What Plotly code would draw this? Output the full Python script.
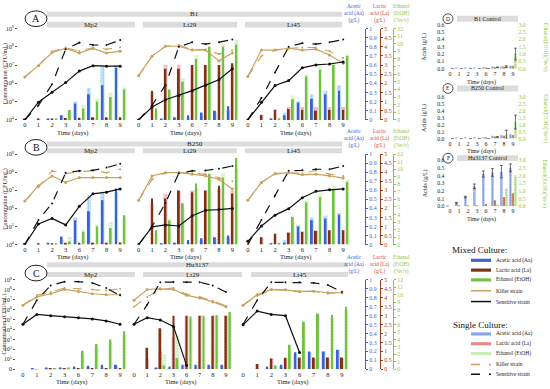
import plotly.graph_objects as go

W, H = 550, 389
FONT = "Liberation Serif"

DAYS = ["0", "1", "2", "3", "6", "7", "8", "9"]
LOG_TICKS_AB = [4, 5, 6, 7, 8, 9]
LOG_TEXT_AB = ["10<sup>4</sup>", "10<sup>5</sup>", "10<sup>6</sup>", "10<sup>7</sup>", "10<sup>8</sup>", "10<sup>9</sup>"]
LOG_TICKS_C = [0, 1, 2, 3, 4, 5, 6, 7, 8, 9]
LOG_TEXT_C = ["0", "10<sup>1</sup>", "10<sup>2</sup>", "10<sup>3</sup>", "10<sup>4</sup>", "10<sup>5</sup>",
              "10<sup>6</sup>", "10<sup>7</sup>", "10<sup>8</sup>", "10<sup>9</sup>"]

# ---------------- Row A : B1 (log10 CFU/mL ; acetic g/L ; lactic g/L ; ethanol %v/v)
B1_Mp2_KM = [6.35, 6.97, 7.69, 7.91, 7.66, 7.91, 7.66, 7.76]
B1_Mp2_KS = [6.35, 6.97, 7.75, 7.96, 7.76, 7.96, 7.87, 7.98]
B1_Mp2_SM = [4.0, 4.97, 5.51, 6.04, 6.67, 6.97, 6.94, 6.94]
B1_Mp2_SS = [4.0, 4.79, 5.95, 7.87, 8.23, 8.10, 8.10, 8.37]
B1_Mp2_AaM = [0.0, 0.0, 0.01, 0.05, 0.18, 0.28, 0.38, 0.57]
B1_Mp2_AaS = [0.0, 0.0, 0.02, 0.05, 0.20, 0.35, 0.60, 0.60]
B1_Mp2_LaM = [0.02, 0.02, 0.05, 0.10, 0.12, 0.15, 0.15, 0.15]
B1_Mp2_LaS = [0.02, 0.02, 0.03, 0.05, 0.10, 0.10, 0.10, 0.10]
B1_Mp2_EtM = [0.0, 0.0, 0.05, 1.3, 1.5, 2.4, 3.0, 4.0]
B1_Mp2_EtS = [0.0, 0.0, 0.1, 1.0, 2.0, 2.8, 3.6, 4.3]

B1_Lt29_KM = [6.42, 7.49, 8.03, 8.03, 7.82, 7.82, 7.23, 7.66]
B1_Lt29_KS = [6.42, 7.49, 8.03, 8.10, 7.85, 7.85, 7.60, 7.80]
B1_Lt29_SM = [4.0, 4.7, 5.1, 5.34, 5.6, 5.9, 6.2, 6.8]
B1_Lt29_SS = [4.0, 4.8, 5.9, 8.0, 8.25, 8.15, 8.25, 8.4]
B1_Lt29_AaM = [0.0, 0.0, 0.01, 0.03, 0.05, 0.08, 0.10, 0.15]
B1_Lt29_AaS = [0.0, 0.0, 0.01, 0.02, 0.03, 0.05, 0.08, 0.10]
B1_Lt29_LaM = [0.0, 1.6, 2.8, 2.8, 3.0, 3.0, 3.0, 3.1]
B1_Lt29_LaS = [0.0, 1.5, 3.0, 3.0, 3.0, 3.0, 3.0, 3.0]
B1_Lt29_EtM = [0.0, 1.5, 4.0, 5.0, 8.0, 9.6, 9.6, 9.9]
B1_Lt29_EtS = [0.0, 1.0, 3.5, 5.5, 8.5, 9.0, 10.0, 10.5]

B1_Lt45_KM = [6.37, 7.82, 7.82, 7.92, 7.82, 7.87, 7.55, 7.10]
B1_Lt45_KS = [6.37, 7.50, 7.82, 7.92, 7.96, 7.96, 7.76, 7.39]
B1_Lt45_SM = [4.0, 4.97, 5.88, 6.15, 6.85, 7.01, 7.06, 7.17]
B1_Lt45_SS = [4.0, 5.2, 6.6, 8.0, 8.2, 8.15, 8.25, 8.4]
B1_Lt45_AaM = [0.0, 0.0, 0.01, 0.05, 0.19, 0.23, 0.28, 0.32]
B1_Lt45_AaS = [0.0, 0.0, 0.02, 0.08, 0.20, 0.28, 0.32, 0.38]
B1_Lt45_LaM = [0.0, 0.27, 0.54, 0.60, 0.55, 0.50, 0.55, 0.55]
B1_Lt45_LaS = [0.0, 0.30, 0.60, 0.70, 0.70, 0.70, 0.70, 0.70]
B1_Lt45_EtM = [0.0, 0.0, 0.1, 2.7, 5.7, 6.6, 7.2, 8.4]
B1_Lt45_EtS = [0.0, 0.0, 0.3, 3.2, 6.0, 7.0, 7.6, 8.6]

# ---------------- Row B : B250
B250_Mp2_KM = [6.41, 7.26, 7.80, 7.44, 7.71, 7.71, 7.71, 7.71]
B250_Mp2_KS = [6.41, 7.17, 8.08, 7.93, 8.04, 8.08, 7.98, 8.17]
B250_Mp2_SM = [4.0, 5.14, 5.45, 5.09, 6.12, 6.81, 6.90, 7.08]
B250_Mp2_SS = [4.0, 5.36, 6.28, 7.98, 8.08, 8.11, 8.26, 8.47]
B250_Mp2_AaM = [0.0, 0.0, 0.02, 0.09, 0.27, 0.37, 0.49, 0.62]
B250_Mp2_AaS = [0.0, 0.0, 0.02, 0.05, 0.30, 0.55, 0.58, 0.58]
B250_Mp2_LaM = [0.02, 0.02, 0.05, 0.10, 0.10, 0.10, 0.10, 0.12]
B250_Mp2_LaS = [0.02, 0.02, 0.03, 0.05, 0.08, 0.10, 0.10, 0.10]
B250_Mp2_EtM = [0.0, 0.0, 0.05, 0.4, 1.7, 2.4, 2.2, 3.9]
B250_Mp2_EtS = [0.0, 0.0, 0.1, 1.0, 2.0, 2.6, 3.0, 3.6]

B250_Lt29_KM = [6.45, 7.80, 7.98, 7.98, 7.90, 7.80, 7.62, 7.08]
B250_Lt29_KS = [6.45, 7.60, 7.98, 8.00, 7.95, 7.90, 7.70, 7.50]
B250_Lt29_SM = [4.0, 4.98, 5.09, 5.03, 5.6, 5.9, 5.94, 6.0]
B250_Lt29_SS = [4.0, 5.0, 6.3, 7.95, 8.08, 8.1, 8.2, 8.35]
B250_Lt29_AaM = [0.0, 0.0, 0.01, 0.02, 0.05, 0.07, 0.08, 0.10]
B250_Lt29_AaS = [0.0, 0.0, 0.01, 0.02, 0.03, 0.05, 0.06, 0.08]
B250_Lt29_LaM = [0.0, 2.55, 2.55, 3.0, 2.9, 3.0, 3.26, 2.83]
B250_Lt29_LaS = [0.0, 2.3, 2.8, 3.0, 3.0, 3.0, 3.1, 3.0]
B250_Lt29_EtM = [0.0, 1.9, 3.2, 5.5, 8.1, 9.4, 8.9, 11.5]
B250_Lt29_EtS = [0.0, 1.5, 3.5, 5.0, 7.5, 9.0, 9.5, 10.0]

B250_Lt45_KM = [6.45, 7.44, 7.93, 7.98, 7.86, 7.90, 7.80, 7.68]
B250_Lt45_KS = [6.45, 7.44, 7.90, 7.98, 7.93, 8.10, 7.90, 7.80]
B250_Lt45_SM = [4.18, 5.03, 5.63, 5.99, 6.59, 6.95, 7.03, 7.08]
B250_Lt45_SS = [4.0, 5.36, 6.72, 8.08, 8.11, 8.17, 8.17, 8.35]
B250_Lt45_AaM = [0.0, 0.0, 0.01, 0.02, 0.20, 0.27, 0.29, 0.33]
B250_Lt45_AaS = [0.0, 0.0, 0.02, 0.05, 0.22, 0.30, 0.32, 0.35]
B250_Lt45_LaM = [0.0, 0.40, 0.60, 0.65, 0.70, 0.75, 0.80, 0.80]
B250_Lt45_LaS = [0.0, 0.40, 0.60, 0.70, 0.75, 0.80, 0.80, 0.80]
B250_Lt45_EtM = [0.0, 0.0, 0.2, 3.7, 5.6, 6.3, 7.4, 8.3]
B250_Lt45_EtS = [0.0, 0.0, 0.3, 3.0, 6.0, 6.8, 7.8, 8.6]

# ---------------- Row C : Hu3137
Hu_Mp2_KM = [6.46, 7.29, 7.61, 8.04, 7.84, 7.61, 7.51, 7.51]
Hu_Mp2_KS = [6.46, 7.45, 7.78, 8.18, 8.11, 8.04, 7.94, 8.11]
Hu_Mp2_SM = [4.54, 5.53, 5.40, 5.30, 5.20, 5.07, 4.87, 4.54]
Hu_Mp2_SS = [4.54, 6.95, 8.44, 8.83, 8.83, 8.70, 8.18, 7.45]
Hu_Mp2_AaM = [0.0, 0.01, 0.02, 0.02, 0.03, 0.04, 0.05, 0.05]
Hu_Mp2_AaS = [0.0, 0.01, 0.01, 0.02, 0.02, 0.03, 0.03, 0.04]
Hu_Mp2_LaM = [0.0, 0.02, 0.05, 0.05, 0.05, 0.05, 0.05, 0.05]
Hu_Mp2_LaS = [0.0, 0.02, 0.03, 0.03, 0.04, 0.04, 0.04, 0.04]
Hu_Mp2_EtM = [0.0, 0.0, 0.1, 0.2, 2.5, 3.4, 4.0, 5.1]
Hu_Mp2_EtS = [0.0, 0.0, 0.1, 0.3, 2.0, 3.0, 3.6, 4.6]

Hu_Lt29_KM = [6.95, 8.04, 8.11, 8.04, 7.45, 7.19, 6.79, 6.30]
Hu_Lt29_KS = [6.30, 7.29, 8.04, 8.20, 7.55, 7.30, 6.90, 6.40]
Hu_Lt29_SM = [4.54, 5.20, 4.97, 4.32, 0.40, None, None, None]
Hu_Lt29_SS = [4.54, 6.50, 8.77, 8.80, 8.77, 8.77, 8.44, 7.78]
Hu_Lt29_AaM = [0.0, 0.0, 0.02, 0.03, 0.05, 0.05, 0.05, 0.05]
Hu_Lt29_AaS = [0.0, 0.0, 0.01, 0.02, 0.04, 0.04, 0.04, 0.04]
Hu_Lt29_LaM = [0.0, 1.2, 2.3, 3.0, 3.0, 3.0, 3.0, 3.0]
Hu_Lt29_LaS = [0.0, 0.6, 1.0, 1.8, 3.0, 3.0, 3.0, 3.0]
Hu_Lt29_EtM = [0.0, 0.0, 0.5, 1.5, 7.1, 7.2, 7.3, 7.7]
Hu_Lt29_EtS = [0.0, 0.0, 2.0, 4.5, 6.8, 7.0, 7.2, 7.4]

Hu_Lt45_KM = [6.46, 7.51, 8.04, 8.00, 7.84, 7.87, 7.71, 7.71]
Hu_Lt45_KS = [6.46, 7.40, 8.00, 7.95, 7.80, 7.87, 7.60, 7.80]
Hu_Lt45_SM = [4.48, 5.86, 5.53, 5.40, 1.70, None, None, None]
Hu_Lt45_SS = [4.54, 6.95, 8.77, 8.77, 8.77, 8.70, 8.50, 7.78]
Hu_Lt45_AaM = [0.0, 0.0, 0.03, 0.05, 0.19, 0.20, 0.20, 0.22]
Hu_Lt45_AaS = [0.0, 0.0, 0.02, 0.04, 0.17, 0.19, 0.20, 0.21]
Hu_Lt45_LaM = [0.0, 0.30, 0.60, 0.65, 0.66, 0.66, 0.66, 0.66]
Hu_Lt45_LaS = [0.0, 0.30, 0.60, 0.60, 0.60, 0.60, 0.60, 0.60]
Hu_Lt45_EtM = [0.0, 0.0, 0.5, 3.3, 6.4, 7.5, 7.3, 8.4]
Hu_Lt45_EtS = [0.0, 0.0, 0.4, 2.5, 6.0, 7.2, 7.0, 8.0]

# ---------------- Controls (acids g/L on left, ethanol %v/v on right)
D_Aa = [0.0, 0.01, 0.01, 0.01, 0.02, 0.03, 0.03, 0.04]
D_La = [0.0, 0.0, 0.0, 0.0, 0.01, 0.02, 0.03, 0.04]
D_Et = [0.0, 0.0, 0.0, 0.0, 0.0, 0.1, 0.15, 1.0]
D_Et_err = [0, 0, 0, 0, 0, 0.02, 0.05, 0.4]
E_Aa = [0.0, 0.01, 0.01, 0.01, 0.02, 0.04, 0.05, 0.06]
E_La = [0.0, 0.0, 0.0, 0.0, 0.01, 0.03, 0.04, 0.05]
E_Et = [0.0, 0.0, 0.0, 0.0, 0.0, 0.1, 0.3, 1.2]
E_Et_err = [0, 0, 0, 0, 0, 0.05, 0.3, 0.5]
F_Aa = [0.0, 0.04, 0.12, 0.26, 0.42, 0.44, 0.45, 0.50]
F_Aa_err = [0, 0.01, 0.01, 0.03, 0.04, 0.05, 0.08, 0.05]
F_La = [0.0, 0.01, 0.01, 0.01, 0.03, 0.08, 0.12, 0.17]
F_Et = [0.0, 0.0, 0.0, 0.0, 0.0, 0.1, 1.15, 2.0]

# ---------------- styling
C_AA, C_LA, C_ET = "#3f5fd6", "#7a3410", "#74c043"
C_AA_S, C_LA_S, C_ET_S = "#c3ecf3", "#f7cddd", "#d8f0c8"
C_KILL = "#c9a25e"
C_AXAA, C_AXLA, C_AXET = "#3b5bdb", "#a0401c", "#8cc63f"


def px(x):
    return x / W


def py(y):
    return 1 - y / H


ROWS = {"A": (118, 25), "B": (245, 153), "C": (372, 281)}
COLS = {"A": [(18, 127), (132, 239), (241, 350)],
        "B": [(18, 127), (132, 239), (241, 350)],
        "C": [(16, 127), (127.5, 232.5), (236, 349)]}

PANELS = [
    ("A", 0, [B1_Mp2_KM, B1_Mp2_KS, B1_Mp2_SM, B1_Mp2_SS], [B1_Mp2_AaM, B1_Mp2_AaS, B1_Mp2_LaM, B1_Mp2_LaS, B1_Mp2_EtM, B1_Mp2_EtS]),
    ("A", 1, [B1_Lt29_KM, B1_Lt29_KS, B1_Lt29_SM, B1_Lt29_SS], [B1_Lt29_AaM, B1_Lt29_AaS, B1_Lt29_LaM, B1_Lt29_LaS, B1_Lt29_EtM, B1_Lt29_EtS]),
    ("A", 2, [B1_Lt45_KM, B1_Lt45_KS, B1_Lt45_SM, B1_Lt45_SS], [B1_Lt45_AaM, B1_Lt45_AaS, B1_Lt45_LaM, B1_Lt45_LaS, B1_Lt45_EtM, B1_Lt45_EtS]),
    ("B", 0, [B250_Mp2_KM, B250_Mp2_KS, B250_Mp2_SM, B250_Mp2_SS], [B250_Mp2_AaM, B250_Mp2_AaS, B250_Mp2_LaM, B250_Mp2_LaS, B250_Mp2_EtM, B250_Mp2_EtS]),
    ("B", 1, [B250_Lt29_KM, B250_Lt29_KS, B250_Lt29_SM, B250_Lt29_SS], [B250_Lt29_AaM, B250_Lt29_AaS, B250_Lt29_LaM, B250_Lt29_LaS, B250_Lt29_EtM, B250_Lt29_EtS]),
    ("B", 2, [B250_Lt45_KM, B250_Lt45_KS, B250_Lt45_SM, B250_Lt45_SS], [B250_Lt45_AaM, B250_Lt45_AaS, B250_Lt45_LaM, B250_Lt45_LaS, B250_Lt45_EtM, B250_Lt45_EtS]),
    ("C", 0, [Hu_Mp2_KM, Hu_Mp2_KS, Hu_Mp2_SM, Hu_Mp2_SS], [Hu_Mp2_AaM, Hu_Mp2_AaS, Hu_Mp2_LaM, Hu_Mp2_LaS, Hu_Mp2_EtM, Hu_Mp2_EtS]),
    ("C", 1, [Hu_Lt29_KM, Hu_Lt29_KS, Hu_Lt29_SM, Hu_Lt29_SS], [Hu_Lt29_AaM, Hu_Lt29_AaS, Hu_Lt29_LaM, Hu_Lt29_LaS, Hu_Lt29_EtM, Hu_Lt29_EtS]),
    ("C", 2, [Hu_Lt45_KM, Hu_Lt45_KS, Hu_Lt45_SM, Hu_Lt45_SS], [Hu_Lt45_AaM, Hu_Lt45_AaS, Hu_Lt45_LaM, Hu_Lt45_LaS, Hu_Lt45_EtM, Hu_Lt45_EtS]),
]

fig = go.Figure()
layout = {}
shapes = []
ann = []


def xk(n):
    return "xaxis" if n == 1 else f"xaxis{n}"


def xr(n):
    return "x" if n == 1 else f"x{n}"


def yk(n):
    return "yaxis" if n == 1 else f"yaxis{n}"


def yr(n):
    return "y" if n == 1 else f"y{n}"


def tf(size=6, color="#222"):
    return dict(size=size, family=FONT, color=color)


def note(x, y, text, size=6, color="#222", xanchor="center", yanchor="middle", **kw):
    d = dict(x=px(x), y=py(y), xref="paper", yref="paper", text=text, showarrow=False,
             font=tf(size, color), xanchor=xanchor, yanchor=yanchor)
    d.update(kw)
    ann.append(d)


def pal(shape, fg, size=3, sol=0.35):
    return dict(shape=shape, fgcolor=fg, size=size, solidity=sol, fillmode="overlay")


xn = 0
yn = 0
for row, col, lines, bars in PANELS:
    xn += 1
    ya, yl, ye, yg = yn + 1, yn + 2, yn + 3, yn + 4
    yn += 4
    y0, y1 = ROWS[row]
    x0, x1 = COLS[row][col]
    dom = [py(y0), py(y1)]
    X = xr(xn)
    layout[xk(xn)] = dict(domain=[px(x0), px(x1)], anchor=yr(ya), type="category",
                          categoryorder="array", categoryarray=DAYS, range=[-0.5, 7.5],
                          showgrid=False, zeroline=False, showline=False, ticks="",
                          tickfont=tf(6.5), fixedrange=True)
    show = col == 2

    def bar_axis(rng, dtick, color, pos, base):
        d = dict(range=rng, showgrid=False, zeroline=False, fixedrange=True)
        if base:
            d["domain"] = dom
        else:
            d["overlaying"] = yr(ya)
        if show:
            d.update(anchor="free", position=px(pos), side="right", showline=True, linecolor=color,
                     linewidth=1.3, ticks="outside", ticklen=2, tickcolor=color, dtick=dtick,
                     tickfont=tf(5.8, color))
        else:
            d.update(anchor=X, visible=False, showticklabels=False)
        return d

    layout[yk(ya)] = bar_axis([0, 1], 0.1, C_AXAA, 365, True)
    layout[yk(yl)] = bar_axis([0, 5], 0.5, C_AXLA, 380, False)
    layout[yk(ye)] = bar_axis([0, 12], 1, C_AXET, 393, False)
    lt = LOG_TICKS_C if row == "C" else LOG_TICKS_AB
    ltx = LOG_TEXT_C if row == "C" else LOG_TEXT_AB
    layout[yk(yg)] = dict(type="log", range=[lt[0], lt[-1]], overlaying=yr(ya), anchor=X, side="left",
                          showgrid=False, zeroline=False, tickvals=[10 ** t for t in lt], ticktext=ltx,
                          ticks="outside", ticklen=2, tickcolor="#555", tickfont=tf(5.8),
                          visible=(col == 0), showticklabels=(col == 0), fixedrange=True)

    aaM, aaS, laM, laS, etM, etS = bars
    specs = [
        (aaS, ya, -0.45, 0.30, C_AA_S, pal(".", "#7f9be6")),
        (laS, yl, -0.15, 0.30, C_LA_S, pal(".", "#e07a7a")),
        (etS, ye, 0.15, 0.30, C_ET_S, pal("-", "#ffffff", 3, 0.3)),
        (aaM, ya, -0.37, 0.14, C_AA, None),
        (laM, yl, -0.07, 0.14, C_LA, None),
        (etM, ye, 0.23, 0.14, C_ET, None),
    ]
    for vals, yy, off, wd, colr, patt in specs:
        mk = dict(color=colr, line=dict(width=0))
        if patt:
            mk["pattern"] = patt
        fig.add_trace(go.Bar(x=DAYS, y=vals, xaxis=X, yaxis=yr(yy), offset=off, width=wd,
                             marker=mk, showlegend=False, hoverinfo="skip"))

    km, ks, sm, ss = lines
    lspecs = [
        (ks, C_KILL, "dash", 1.1, 2),
        (km, C_KILL, "solid", 1.2, 3),
        (ss, "#111", "dash", 1.2, 2),
        (sm, "#111", "solid", 1.2, 3),
    ]
    for vals, colr, dash, lw, msz in lspecs:
        fig.add_trace(go.Scatter(x=DAYS, y=[10 ** v if v is not None else None for v in vals],
                                 xaxis=X, yaxis=yr(yg), mode="lines+markers",
                                 line=dict(color=colr, width=lw, dash=dash),
                                 marker=dict(size=msz, color=colr, symbol="circle"),
                                 showlegend=False, hoverinfo="skip"))

    note((x0 + x1) / 2, y0 + 13, "Time (days)", 6.5)

# ---------- banners, letters and titles for main rows
BANNERS = {
    "A": ("B1", 8, 13, 18, 24, [(47, 135), (143, 237), (245, 342)]),
    "B": ("B250", 140, 145, 147, 152, [(47, 135), (143, 237), (245, 342)]),
    "C": ("Hu3137", 263, 268, 273, 278, [(47, 135), (143, 242), (251, 348)]),
}
STRAINS = ["Mp2", "Lt29", "Lt45"]
for row, (name, t0, t1, s0, s1, cols) in BANNERS.items():
    bx0, bx1 = 47, cols[-1][1]
    shapes.append(dict(type="rect", xref="paper", yref="paper", x0=px(bx0), x1=px(bx1),
                       y0=py(t1), y1=py(t0), fillcolor="#dcdcdc", line=dict(width=0), layer="below"))
    note((bx0 + bx1) / 2, (t0 + t1) / 2, name, 7)
    for (c0, c1), s in zip(cols, STRAINS):
        shapes.append(dict(type="rect", xref="paper", yref="paper", x0=px(c0), x1=px(c1),
                           y0=py(s1), y1=py(s0), fillcolor="#dcdcdc", line=dict(width=0), layer="below"))
        note((c0 + c1) / 2, (s0 + s1) / 2, s, 7)
    y0, y1 = ROWS[row]
    note(5, (y0 + y1) / 2, "Concentration (CFU/mL)", 6, "#4a2222", textangle=-90)
    for txt, cx, colr in [("Acetic<br>acid (Aa)<br>(g/L)", 354, C_AXAA),
                          ("Lactic<br>acid (La)<br>(g/L)", 379, "#d04545"),
                          ("Ethanol<br>(EtOH)<br>(%v/v)", 401, C_AXET)]:
        note(cx, y1 - 3, txt, 5.3, colr, yanchor="bottom", align="center")

for letter, cx, cy in [("A", 36, 15), ("B", 36, 146), ("C", 36, 274)]:
    shapes.append(dict(type="circle", xref="paper", yref="paper", x0=px(cx - 11), x1=px(cx + 11),
                       y0=py(cy + 8), y1=py(cy - 8), line=dict(color="#222", width=1)))
    note(cx, cy, letter, 10, "#111")

# ---------- control panels D/E/F
CTRL = [
    ("D", "B1 Control", (66, 21), 15, D_Aa, D_La, D_Et, None, D_Et_err),
    ("E", "B250 Control", (137, 95), 86, E_Aa, E_La, E_Et, None, E_Et_err),
    ("F", "Hu3137 Control", (206, 159), 157, F_Aa, F_La, F_Et, F_Aa_err, None),
]
cx0, cx1 = 445.5, 517.5
for letter, title, (y0, y1), by, aa, la, et, aerr, eerr in CTRL:
    xn += 1
    ya, ye = yn + 1, yn + 2
    yn += 2
    X = xr(xn)
    dom = [py(y0), py(y1)]
    layout[xk(xn)] = dict(domain=[px(cx0), px(cx1)], anchor=yr(ya), type="category",
                          categoryorder="array", categoryarray=DAYS, range=[-0.5, 7.5],
                          showgrid=False, zeroline=False, showline=False, ticks="",
                          tickfont=tf(6), fixedrange=True)
    layout[yk(ya)] = dict(domain=dom, anchor=X, range=[0, 0.6], dtick=0.1, tickformat=".1f",
                          showgrid=False, zeroline=False, tickfont=tf(5.8), fixedrange=True)
    layout[yk(ye)] = dict(overlaying=yr(ya), anchor=X, side="right", range=[0, 3], dtick=0.5,
                          tickformat=".1f", showgrid=False, zeroline=False,
                          tickfont=tf(5.8, C_AXET), fixedrange=True)
    fig.add_trace(go.Bar(x=DAYS, y=aa, xaxis=X, yaxis=yr(ya), offset=-0.42, width=0.26,
                         marker=dict(color="#7f9be6", line=dict(width=0), pattern=pal(".", "#ffffff", 2.5, 0.3)),
                         error_y=dict(array=aerr, visible=aerr is not None, thickness=0.7, width=1.5, color="#333"),
                         showlegend=False, hoverinfo="skip"))
    fig.add_trace(go.Bar(x=DAYS, y=la, xaxis=X, yaxis=yr(ya), offset=-0.14, width=0.26,
                         marker=dict(color="#d88a6a", line=dict(width=0), pattern=pal(".", "#7a3410", 2.5, 0.35)),
                         showlegend=False, hoverinfo="skip"))
    fig.add_trace(go.Bar(x=DAYS, y=et, xaxis=X, yaxis=yr(ye), offset=0.14, width=0.26,
                         marker=dict(color="#a8d88a", line=dict(width=0), pattern=pal("-", "#ffffff", 2.5, 0.3)),
                         error_y=dict(array=eerr, visible=eerr is not None, thickness=0.7, width=1.5, color="#333"),
                         showlegend=False, hoverinfo="skip"))
    shapes.append(dict(type="rect", xref="paper", yref="paper", x0=px(457), x1=px(518),
                       y0=py(by + 3), y1=py(by - 3), fillcolor="#dcdcdc", line=dict(width=0), layer="below"))
    note(487.5, by, title, 6)
    shapes.append(dict(type="circle", xref="paper", yref="paper", x0=px(443), x1=px(453),
                       y0=py(by + 5), y1=py(by - 5), line=dict(color="#222", width=0.8)))
    note(448, by, letter, 5.5, "#111")
    note((cx0 + cx1) / 2, y0 + 13.5, "Time (days)", 6)
    note(425, (y0 + y1) / 2, "Acids (g/L)", 6, textangle=-90)
    note(545, (y0 + y1) / 2, "Ethanol(EtOH)(%v/v)", 5.5, C_AXET, textangle=90)

# ---------- manual legend
LEG_MIXED = [("Acetic acid (Aa)", 261), ("Lactic acid (La)", 271), ("Ethanol (EtOH)", 281),
             ("Killer strain", 292), ("Sensitive strain", 303)]
LEG_SINGLE = [("Acetic acid (Aa)", 336), ("Lactic acid (La)", 346), ("Ethanol (EtOH)", 356),
              ("Killer strain", 367), ("Sensitive strain", 377)]
note(450, 250, "Mixed Culture:", 9, "#111", xanchor="left")
note(451, 327, "Single Culture:", 9, "#111", xanchor="left")
mixed_sw = [("bar", C_AA), ("bar", C_LA), ("bar", C_ET), ("line", C_KILL), ("line", "#111")]
single_sw = [("bar", "#8aa4ec"), ("bar", "#e58a8a"), ("bar", "#c8ecb6"), ("dash", C_KILL), ("dash", "#111")]
for items, sws in [(LEG_MIXED, mixed_sw), (LEG_SINGLE, single_sw)]:
    for (label, ly), (kind, colr) in zip(items, sws):
        if kind == "bar":
            shapes.append(dict(type="rect", xref="paper", yref="paper", x0=px(471), x1=px(491),
                               y0=py(ly + 1.6), y1=py(ly - 1.6), fillcolor=colr, line=dict(width=0)))
        else:
            shapes.append(dict(type="line", xref="paper", yref="paper", x0=px(471), x1=px(491),
                               y0=py(ly), y1=py(ly),
                               line=dict(color=colr, width=1.5, dash="dash" if kind == "dash" else "solid")))
        note(494, ly, label, 5.5, "#222", xanchor="left")

layout.update(dict(width=W, height=H, margin=dict(l=0, r=0, t=0, b=0), barmode="overlay",
                   paper_bgcolor="white", plot_bgcolor="white", showlegend=False,
                   shapes=shapes, annotations=ann, font=dict(family=FONT)))
fig.update_layout(**layout)
fig.write_html("out.html", config={"displayModeBar": False},
               post_script="document.body.style.margin='0px';document.body.style.overflow='hidden';")
